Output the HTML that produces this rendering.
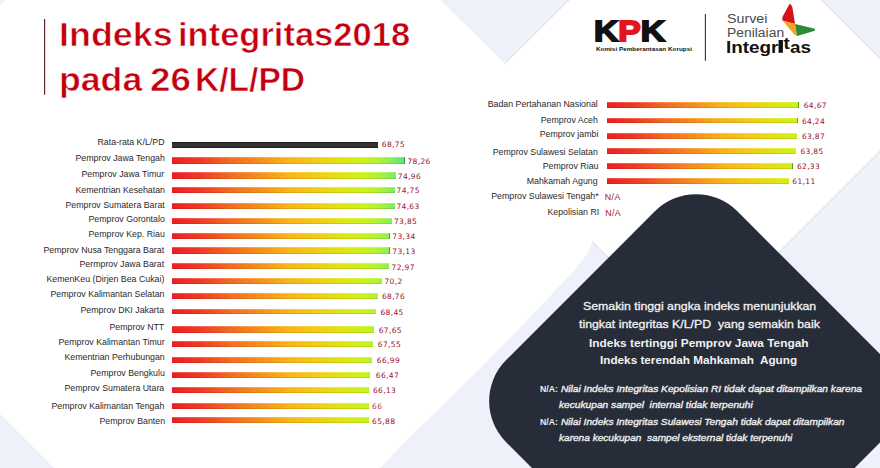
<!DOCTYPE html>
<html><head><meta charset="utf-8"><title>Indeks integritas 2018</title>
<style>
html,body{margin:0;padding:0;}
body{width:880px;height:468px;overflow:hidden;position:relative;background:#fff;}
.t{position:absolute;white-space:pre;line-height:0;}
.bar{position:absolute;background-image:linear-gradient(to right,#ee1d25 0%,#f03a23 12%,#f26a21 25%,#f5901c 38%,#f9b416 50%,#f2cc14 62%,#dee60f 73%,#cbf218 82%,#b2f232 88%,#88ee58 94%,#55e680 100%);background-size:233px 100%;background-repeat:no-repeat;box-shadow:inset 0 1px 0 rgba(255,255,255,.22),inset 0 -1px 0 rgba(60,20,0,.12);}
.bar.e::after{content:"";position:absolute;right:0;top:0;width:1px;height:100%;background:rgba(30,100,40,.6);}
.bar.blk{background:#333131;box-shadow:inset 0 1px 0 rgba(0,0,0,.35),inset 0 -1px 0 rgba(0,0,0,.35);}
</style></head><body>
<svg width="880" height="468" style="position:absolute;left:0;top:0">
<rect width="880" height="468" fill="#eef1fa"/>
<polygon points="413.75,-407.75 926.25,104.75 308.6,722.4 -203.9,209.9" fill="#ffffff"/>
<path d="M821.5,0 L926.25,104.75 L308.6,722.4" fill="none" stroke="#d6d7e0" stroke-width="0.9"/>
<polygon points="440.5,0 569,0 504.65,63.85" fill="#eef1fa"/>
<path d="M569,0 L504.65,63.85" stroke="#d6d7e0" stroke-width="0.9"/>
<path d="M592.2,241.4 L720,369 L720,480 L368,480 L379.8,468 L410,436.9 L474.3,374.2 L503.3,345.1 L573.5,271.3 C581,263 588.5,253 592.2,241.4 Z" fill="#eef1fa"/>
<path d="M592.2,241.4 L612,261.2" stroke="#d6d7e0" stroke-width="0.9"/>
<rect x="533.35" y="236.35" width="322.7" height="326.7" rx="58" ry="58" fill="#262c38" transform="rotate(45 694.7 399.7)"/>
<line x1="44.6" y1="19" x2="44.6" y2="94.8" stroke="#5e1c22" stroke-width="1.15"/>
<line x1="705.4" y1="14" x2="705.4" y2="60.7" stroke="#5c2228" stroke-width="1.1"/>
</svg>
<div class="bar blk" style="left:172.0px;top:142.0px;height:6.0px;width:206.0px"></div>
<div class="bar e" style="left:172.0px;top:157.0px;height:6.5px;width:232.9px"></div>
<div class="bar" style="left:172.0px;top:172.0px;height:6.5px;width:224.0px"></div>
<div class="bar" style="left:172.0px;top:186.9px;height:6.2px;width:222.7px"></div>
<div class="bar" style="left:172.0px;top:202.6px;height:6.1px;width:222.5px"></div>
<div class="bar" style="left:172.0px;top:218.0px;height:5.9px;width:219.6px"></div>
<div class="bar e" style="left:172.0px;top:232.9px;height:5.8px;width:217.8px"></div>
<div class="bar e" style="left:172.0px;top:247.2px;height:6.8px;width:217.8px"></div>
<div class="bar" style="left:172.0px;top:263.0px;height:6.4px;width:216.7px"></div>
<div class="bar" style="left:172.0px;top:278.1px;height:5.7px;width:209.9px"></div>
<div class="bar" style="left:172.0px;top:293.3px;height:5.3px;width:205.6px"></div>
<div class="bar" style="left:172.0px;top:308.9px;height:5.6px;width:204.0px"></div>
<div class="bar" style="left:172.0px;top:326.0px;height:6.6px;width:202.0px"></div>
<div class="bar" style="left:172.0px;top:340.9px;height:6.1px;width:200.7px"></div>
<div class="bar" style="left:172.0px;top:357.0px;height:6.0px;width:199.6px"></div>
<div class="bar" style="left:172.0px;top:372.1px;height:5.8px;width:198.1px"></div>
<div class="bar" style="left:172.0px;top:387.0px;height:5.7px;width:196.9px"></div>
<div class="bar" style="left:172.0px;top:403.0px;height:5.7px;width:196.7px"></div>
<div class="bar" style="left:172.0px;top:417.4px;height:6.0px;width:196.7px"></div>
<div class="bar e" style="left:607.3px;top:102.1px;height:5.5px;width:191.5px"></div>
<div class="bar e" style="left:607.3px;top:117.9px;height:5.6px;width:190.6px"></div>
<div class="bar" style="left:607.3px;top:133.2px;height:5.5px;width:189.6px"></div>
<div class="bar" style="left:607.3px;top:147.6px;height:6.0px;width:189.2px"></div>
<div class="bar e" style="left:607.3px;top:162.6px;height:6.0px;width:185.8px"></div>
<div class="bar" style="left:607.3px;top:178.2px;height:5.8px;width:181.5px"></div>
<div class="t" style="left:58.89px;top:35.00px;font:bold 32.5px 'Liberation Sans', Arial, sans-serif;line-height:0;color:#c4000f;-webkit-text-stroke:0.6px #fff;transform:scale(1.1050,1.0000);transform-origin:0 11.00px;">Indeks</div>
<div class="t" style="left:178.21px;top:35.00px;font:bold 32.5px 'Liberation Sans', Arial, sans-serif;line-height:0;color:#c4000f;-webkit-text-stroke:0.6px #fff;transform:scale(1.0617,1.0000);transform-origin:0 11.00px;">integritas2018</div>
<div class="t" style="left:58.71px;top:79.70px;font:bold 32.5px 'Liberation Sans', Arial, sans-serif;line-height:0;color:#c4000f;-webkit-text-stroke:0.6px #fff;transform:scale(1.0973,1.0000);transform-origin:0 11.00px;">pada</div>
<div class="t" style="left:149.87px;top:79.70px;font:bold 32.5px 'Liberation Sans', Arial, sans-serif;line-height:0;color:#c4000f;-webkit-text-stroke:0.6px #fff;transform:scale(1.1294,1.0000);transform-origin:0 11.00px;">26</div>
<div class="t" style="left:194.73px;top:79.70px;font:bold 32.5px 'Liberation Sans', Arial, sans-serif;line-height:0;color:#c4000f;-webkit-text-stroke:0.6px #fff;transform:scale(1.0330,1.0000);transform-origin:0 11.00px;">K/L/PD</div>
<div class="t" style="left:97.50px;top:142.40px;font:8.8px 'Liberation Sans', Arial, sans-serif;line-height:0;color:#2a2a2a;">Rata-rata K/L/PD</div>
<div class="t" style="left:381.80px;top:144.80px;font:7.5px 'DejaVu Sans', Verdana, sans-serif;line-height:0;color:#9c1028;letter-spacing:0.35px;">68,75</div>
<div class="t" style="left:75.50px;top:158.40px;font:8.8px 'Liberation Sans', Arial, sans-serif;line-height:0;color:#2a2a2a;">Pemprov Jawa Tengah</div>
<div class="t" style="left:407.50px;top:161.60px;font:7.5px 'DejaVu Sans', Verdana, sans-serif;line-height:0;color:#9c1028;letter-spacing:0.35px;">78,26</div>
<div class="t" style="left:81.50px;top:174.40px;font:8.8px 'Liberation Sans', Arial, sans-serif;line-height:0;color:#2a2a2a;">Pemprov Jawa Timur</div>
<div class="t" style="left:397.80px;top:176.60px;font:7.5px 'DejaVu Sans', Verdana, sans-serif;line-height:0;color:#9c1028;letter-spacing:0.35px;">74,96</div>
<div class="t" style="left:75.50px;top:189.60px;font:8.8px 'Liberation Sans', Arial, sans-serif;line-height:0;color:#2a2a2a;">Kementrian Kesehatan</div>
<div class="t" style="left:396.60px;top:191.20px;font:7.5px 'DejaVu Sans', Verdana, sans-serif;line-height:0;color:#9c1028;letter-spacing:0.35px;">74,75</div>
<div class="t" style="left:65.50px;top:204.90px;font:8.8px 'Liberation Sans', Arial, sans-serif;line-height:0;color:#2a2a2a;">Pemprov Sumatera Barat</div>
<div class="t" style="left:396.40px;top:206.80px;font:7.5px 'DejaVu Sans', Verdana, sans-serif;line-height:0;color:#9c1028;letter-spacing:0.35px;">74,63</div>
<div class="t" style="left:88.50px;top:219.10px;font:8.8px 'Liberation Sans', Arial, sans-serif;line-height:0;color:#2a2a2a;">Pemprov Gorontalo</div>
<div class="t" style="left:394.00px;top:222.00px;font:7.5px 'DejaVu Sans', Verdana, sans-serif;line-height:0;color:#9c1028;letter-spacing:0.35px;">73,85</div>
<div class="t" style="left:88.50px;top:234.40px;font:8.8px 'Liberation Sans', Arial, sans-serif;line-height:0;color:#2a2a2a;">Pemprov Kep. Riau</div>
<div class="t" style="left:392.30px;top:236.80px;font:7.5px 'DejaVu Sans', Verdana, sans-serif;line-height:0;color:#9c1028;letter-spacing:0.35px;">73,34</div>
<div class="t" style="left:43.50px;top:249.60px;font:8.8px 'Liberation Sans', Arial, sans-serif;line-height:0;color:#2a2a2a;">Pemprov Nusa Tenggara Barat</div>
<div class="t" style="left:392.30px;top:252.10px;font:7.5px 'DejaVu Sans', Verdana, sans-serif;line-height:0;color:#9c1028;letter-spacing:0.35px;">73,13</div>
<div class="t" style="left:79.50px;top:263.80px;font:8.8px 'Liberation Sans', Arial, sans-serif;line-height:0;color:#2a2a2a;">Permprov Jawa Barat</div>
<div class="t" style="left:391.60px;top:267.50px;font:7.5px 'DejaVu Sans', Verdana, sans-serif;line-height:0;color:#9c1028;letter-spacing:0.35px;">72,97</div>
<div class="t" style="left:46.50px;top:278.70px;font:8.8px 'Liberation Sans', Arial, sans-serif;line-height:0;color:#2a2a2a;">KemenKeu (Dirjen Bea Cukai)</div>
<div class="t" style="left:384.50px;top:281.90px;font:7.5px 'DejaVu Sans', Verdana, sans-serif;line-height:0;color:#9c1028;letter-spacing:0.35px;">70,2</div>
<div class="t" style="left:50.50px;top:293.90px;font:8.8px 'Liberation Sans', Arial, sans-serif;line-height:0;color:#2a2a2a;">Pemprov Kalimantan Selatan</div>
<div class="t" style="left:381.90px;top:296.70px;font:7.5px 'DejaVu Sans', Verdana, sans-serif;line-height:0;color:#9c1028;letter-spacing:0.35px;">68,76</div>
<div class="t" style="left:80.50px;top:310.30px;font:8.8px 'Liberation Sans', Arial, sans-serif;line-height:0;color:#2a2a2a;">Pemprov DKI Jakarta</div>
<div class="t" style="left:380.50px;top:312.60px;font:7.5px 'DejaVu Sans', Verdana, sans-serif;line-height:0;color:#9c1028;letter-spacing:0.35px;">68,45</div>
<div class="t" style="left:109.50px;top:326.80px;font:8.8px 'Liberation Sans', Arial, sans-serif;line-height:0;color:#2a2a2a;">Pemprov NTT</div>
<div class="t" style="left:378.70px;top:330.70px;font:7.5px 'DejaVu Sans', Verdana, sans-serif;line-height:0;color:#9c1028;letter-spacing:0.35px;">67,65</div>
<div class="t" style="left:58.50px;top:342.10px;font:8.8px 'Liberation Sans', Arial, sans-serif;line-height:0;color:#2a2a2a;">Pemprov Kalimantan Timur</div>
<div class="t" style="left:377.80px;top:345.10px;font:7.5px 'DejaVu Sans', Verdana, sans-serif;line-height:0;color:#9c1028;letter-spacing:0.35px;">67,55</div>
<div class="t" style="left:64.50px;top:357.10px;font:8.8px 'Liberation Sans', Arial, sans-serif;line-height:0;color:#2a2a2a;">Kementrian Perhubungan</div>
<div class="t" style="left:376.80px;top:361.10px;font:7.5px 'DejaVu Sans', Verdana, sans-serif;line-height:0;color:#9c1028;letter-spacing:0.35px;">66,99</div>
<div class="t" style="left:90.50px;top:372.60px;font:8.8px 'Liberation Sans', Arial, sans-serif;line-height:0;color:#2a2a2a;">Pemprov Bengkulu</div>
<div class="t" style="left:375.80px;top:376.00px;font:7.5px 'DejaVu Sans', Verdana, sans-serif;line-height:0;color:#9c1028;letter-spacing:0.35px;">66,47</div>
<div class="t" style="left:64.50px;top:387.80px;font:8.8px 'Liberation Sans', Arial, sans-serif;line-height:0;color:#2a2a2a;">Pemprov Sumatera Utara</div>
<div class="t" style="left:373.00px;top:390.80px;font:7.5px 'DejaVu Sans', Verdana, sans-serif;line-height:0;color:#9c1028;letter-spacing:0.35px;">66,13</div>
<div class="t" style="left:51.50px;top:405.60px;font:8.8px 'Liberation Sans', Arial, sans-serif;line-height:0;color:#2a2a2a;">Pemprov Kalimantan Tengah</div>
<div class="t" style="left:372.10px;top:406.80px;font:7.5px 'DejaVu Sans', Verdana, sans-serif;line-height:0;color:#cf2a3a;letter-spacing:0.35px;">66</div>
<div class="t" style="left:99.50px;top:420.80px;font:8.8px 'Liberation Sans', Arial, sans-serif;line-height:0;color:#2a2a2a;">Pemprov Banten</div>
<div class="t" style="left:372.10px;top:421.50px;font:7.5px 'DejaVu Sans', Verdana, sans-serif;line-height:0;color:#9c1028;letter-spacing:0.35px;">65,88</div>
<div class="t" style="left:487.70px;top:103.80px;font:8.8px 'Liberation Sans', Arial, sans-serif;line-height:0;color:#2a2a2a;">Badan Pertahanan Nasional</div>
<div class="t" style="left:803.70px;top:105.70px;font:7.5px 'DejaVu Sans', Verdana, sans-serif;line-height:0;color:#9c1028;letter-spacing:0.35px;">64,67</div>
<div class="t" style="left:540.70px;top:119.80px;font:8.8px 'Liberation Sans', Arial, sans-serif;line-height:0;color:#2a2a2a;">Pemprov Aceh</div>
<div class="t" style="left:801.90px;top:121.60px;font:7.5px 'DejaVu Sans', Verdana, sans-serif;line-height:0;color:#9c1028;letter-spacing:0.35px;">64,24</div>
<div class="t" style="left:539.70px;top:134.40px;font:8.8px 'Liberation Sans', Arial, sans-serif;line-height:0;color:#2a2a2a;">Pemprov jambi</div>
<div class="t" style="left:801.90px;top:136.80px;font:7.5px 'DejaVu Sans', Verdana, sans-serif;line-height:0;color:#9c1028;letter-spacing:0.35px;">63,87</div>
<div class="t" style="left:492.70px;top:151.70px;font:8.8px 'Liberation Sans', Arial, sans-serif;line-height:0;color:#2a2a2a;">Pemprov Sulawesi Selatan</div>
<div class="t" style="left:800.40px;top:151.70px;font:7.5px 'DejaVu Sans', Verdana, sans-serif;line-height:0;color:#9c1028;letter-spacing:0.35px;">63,85</div>
<div class="t" style="left:542.70px;top:165.90px;font:8.8px 'Liberation Sans', Arial, sans-serif;line-height:0;color:#2a2a2a;">Pemprov Riau</div>
<div class="t" style="left:796.90px;top:166.70px;font:7.5px 'DejaVu Sans', Verdana, sans-serif;line-height:0;color:#9c1028;letter-spacing:0.35px;">62,33</div>
<div class="t" style="left:526.70px;top:180.50px;font:8.8px 'Liberation Sans', Arial, sans-serif;line-height:0;color:#2a2a2a;">Mahkamah Agung</div>
<div class="t" style="left:792.30px;top:182.10px;font:7.5px 'DejaVu Sans', Verdana, sans-serif;line-height:0;color:#9c1028;letter-spacing:0.35px;">61,11</div>
<div class="t" style="left:491.20px;top:196.20px;font:8.8px 'Liberation Sans', Arial, sans-serif;line-height:0;color:#2a2a2a;">Pemprov Sulawesi Tengah*</div>
<div class="t" style="left:547.40px;top:212.00px;font:8.8px 'Liberation Sans', Arial, sans-serif;line-height:0;color:#2a2a2a;">Kepolisian RI</div>
<div class="t" style="left:604.80px;top:196.60px;font:8.8px 'Liberation Sans', Arial, sans-serif;line-height:0;color:#b01423;letter-spacing:0.4px;">N/A</div>
<div class="t" style="left:605.20px;top:212.50px;font:8.8px 'Liberation Sans', Arial, sans-serif;line-height:0;color:#b01423;letter-spacing:0.4px;">N/A</div>
<div class="t" style="left:582.60px;top:306.10px;font:11.4px 'Liberation Sans', Arial, sans-serif;line-height:0;color:#f2f2f2;-webkit-text-stroke:0.3px #f2f2f2;transform:scale(1.0801,1.0000);transform-origin:0 4.00px;">Semakin tinggi angka indeks menunjukkan</div>
<div class="t" style="left:579.20px;top:323.80px;font:11.4px 'Liberation Sans', Arial, sans-serif;line-height:0;color:#f2f2f2;-webkit-text-stroke:0.3px #f2f2f2;transform:scale(1.0807,1.0000);transform-origin:0 4.00px;">tingkat integritas K/L/PD  yang semakin baik</div>
<div class="t" style="left:588.96px;top:342.70px;font:bold 11.4px 'Liberation Sans', Arial, sans-serif;line-height:0;color:#f2f2f2;transform:scale(1.0426,1.0000);transform-origin:0 4.00px;">Indeks tertinggi Pemprov Jawa Tengah</div>
<div class="t" style="left:599.97px;top:360.40px;font:bold 11.4px 'Liberation Sans', Arial, sans-serif;line-height:0;color:#f2f2f2;transform:scale(1.0300,1.0000);transform-origin:0 4.00px;">Indeks terendah Mahkamah  Agung</div>
<div class="t" style="left:539.70px;top:389.30px;font:bold 9px 'Liberation Sans', Arial, sans-serif;line-height:0;color:#eeeeee;transform:scale(0.9722,1.0000);transform-origin:0 3.00px;">N/A:</div>
<div class="t" style="left:560.70px;top:389.30px;font:italic 9px 'Liberation Sans', Arial, sans-serif;line-height:0;color:#eeeeee;-webkit-text-stroke:0.35px #eeeeee;transform:scale(1.1308,1.0000);transform-origin:0 3.00px;">Nilai Indeks Integritas Kepolisian RI tidak dapat ditampilkan karena</div>
<div class="t" style="left:559.30px;top:404.80px;font:italic 9px 'Liberation Sans', Arial, sans-serif;line-height:0;color:#eeeeee;-webkit-text-stroke:0.35px #eeeeee;transform:scale(1.1320,1.0000);transform-origin:0 3.00px;">kecukupan sampel  internal tidak terpenuhi</div>
<div class="t" style="left:539.70px;top:422.20px;font:bold 9px 'Liberation Sans', Arial, sans-serif;line-height:0;color:#eeeeee;transform:scale(0.9722,1.0000);transform-origin:0 3.00px;">N/A:</div>
<div class="t" style="left:560.70px;top:422.20px;font:italic 9px 'Liberation Sans', Arial, sans-serif;line-height:0;color:#eeeeee;-webkit-text-stroke:0.35px #eeeeee;transform:scale(1.1279,1.0000);transform-origin:0 3.00px;">Nilai Indeks Integritas Sulawesi Tengah tidak dapat ditampilkan</div>
<div class="t" style="left:559.30px;top:437.70px;font:italic 9px 'Liberation Sans', Arial, sans-serif;line-height:0;color:#eeeeee;-webkit-text-stroke:0.35px #eeeeee;transform:scale(1.1206,1.0000);transform-origin:0 3.00px;">karena kecukupan  sampel eksternal tidak terpenuhi</div>
<div class="t" style="left:594.46px;top:31.30px;font:bold 29.5px 'Liberation Sans', Arial, sans-serif;line-height:0;color:#111;-webkit-text-stroke:1.8px #111;transform:scale(1.1413,1.0000);transform-origin:0 10.00px;">K<span style="color:#e3141b;-webkit-text-stroke:1.8px #e3141b">P</span>K</div>
<div class="t" style="left:595.60px;top:49.30px;font:bold 6.2px 'Liberation Sans', Arial, sans-serif;line-height:0;color:#111;transform:scale(1.0258,1.0000);transform-origin:0 2.00px;">Komisi Pemberantasan Korupsi</div>
<div class="t" style="left:726.54px;top:19.40px;font:12.3px 'Liberation Sans', Arial, sans-serif;line-height:0;color:#4a4a4a;transform:scale(1.1606,1.0000);transform-origin:0 4.00px;">Survei</div>
<div class="t" style="left:726.57px;top:33.00px;font:12.3px 'Liberation Sans', Arial, sans-serif;line-height:0;color:#4a4a4a;transform:scale(1.1286,1.0000);transform-origin:0 4.00px;">Penilaian</div>
<div class="t" style="left:726.06px;top:47.00px;font:bold 16.5px 'Liberation Sans', Arial, sans-serif;line-height:0;color:#111;transform:scale(1.1425,1.0000);transform-origin:0 6.00px;">Integr<span style="color:transparent;background:linear-gradient(#111,#111) 0.5px 2.1px/3.8px 12.8px no-repeat">i</span><span style="position:relative;top:-3.6px">t</span>as</div>
<svg width="40" height="40" style="position:absolute;left:778px;top:0" viewBox="778 0 40 40">
<path d="M789.5,4 C791,4 792,6 792.5,8 L795,24 L782.5,20.5 C782,18.5 782.5,16.5 783.5,15 Z" fill="#d5121b"/>
<path d="M782.5,20.5 L795,24 L797,36 C795.5,35.5 794,34.5 793,33 Z" fill="#f4a325"/>
<path d="M795,24 L814,28.5 C815.5,29 815.5,30.5 814,31 L797,36 Z" fill="#2b8a35"/>
</svg>
</body></html>
